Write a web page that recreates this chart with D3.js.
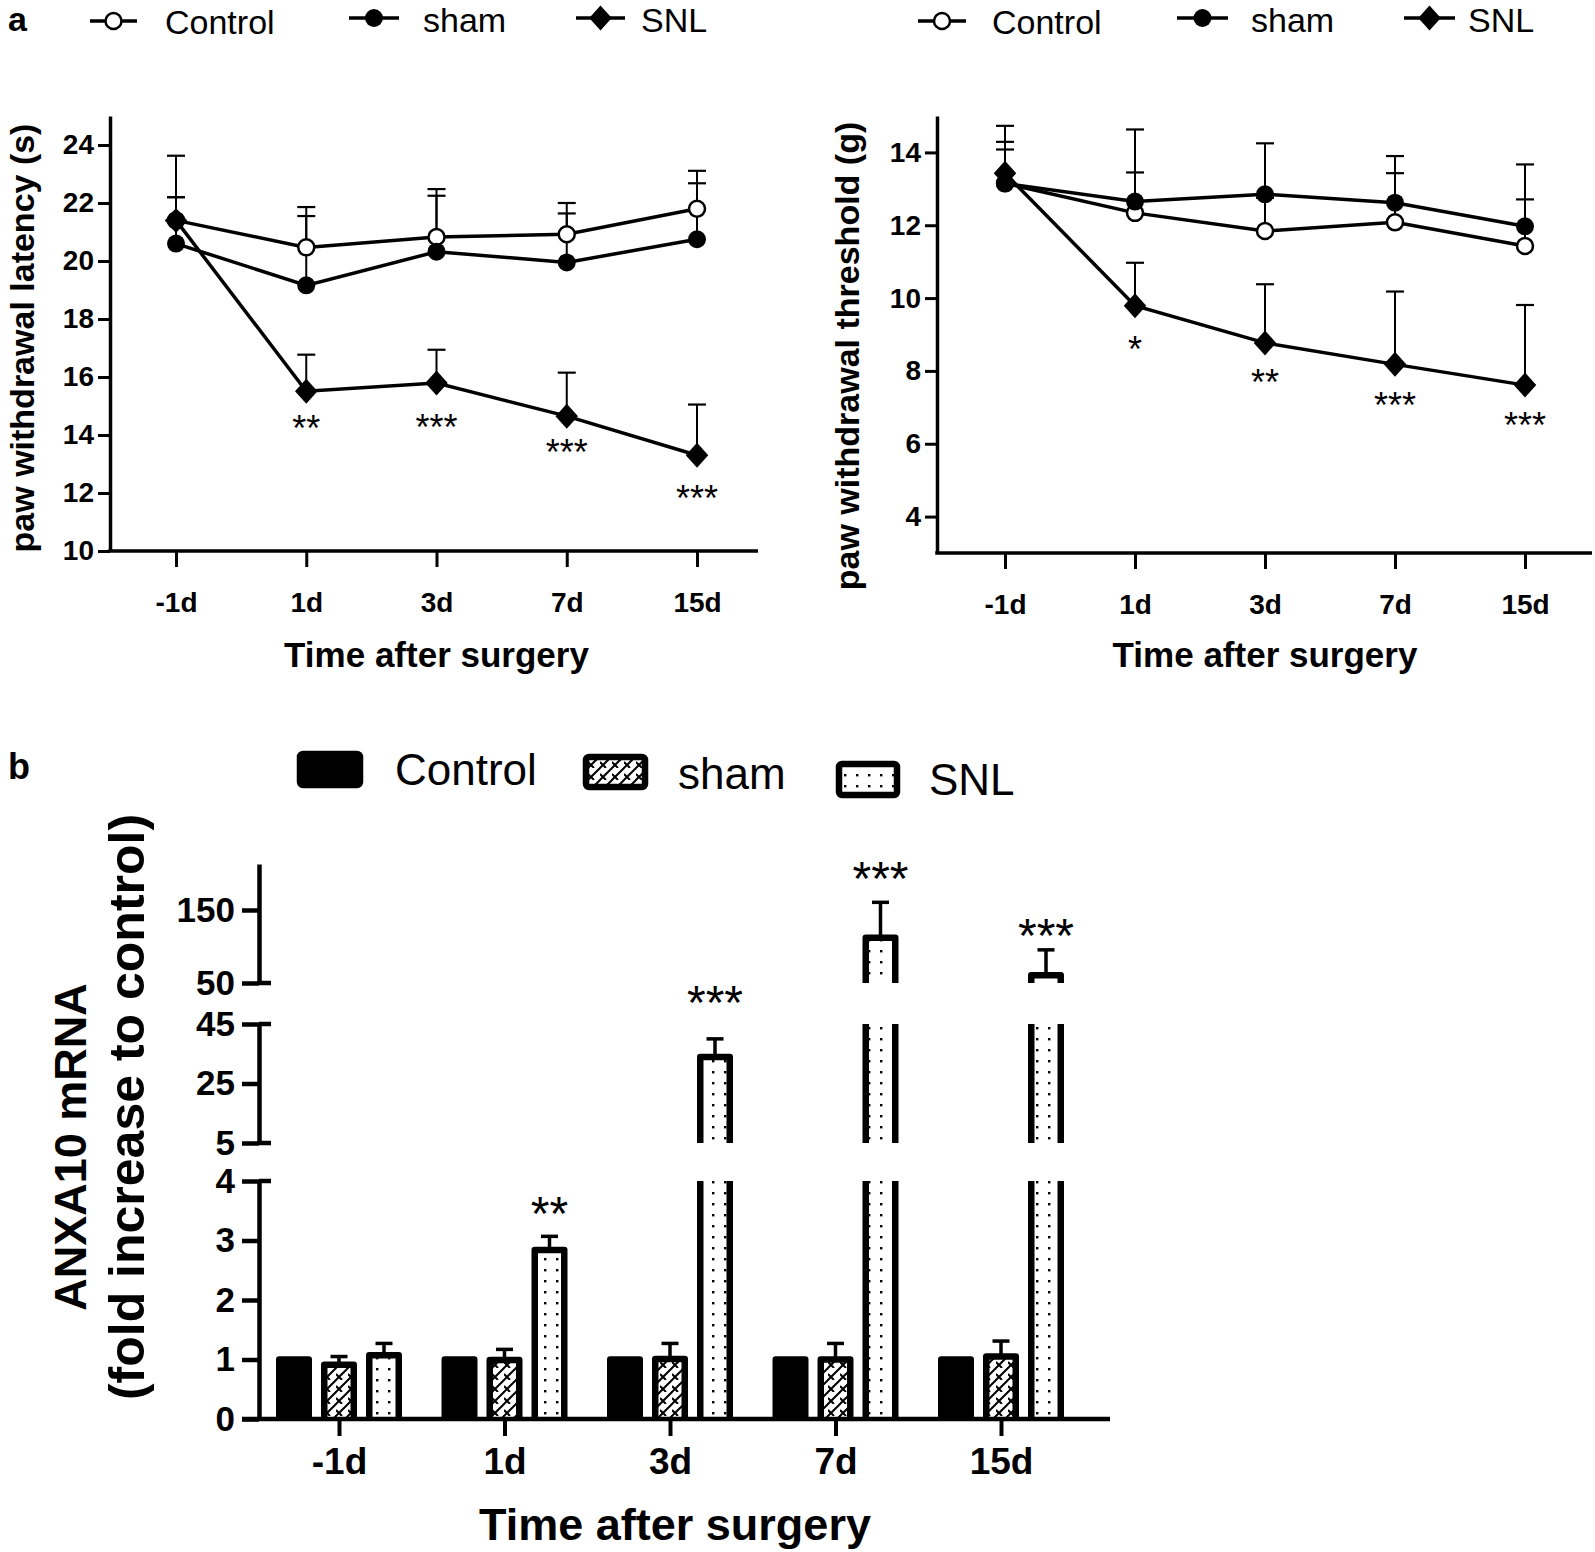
<!DOCTYPE html>
<html>
<head>
<meta charset="utf-8">
<script src="https://cdn.jsdelivr.net/npm/d3@7"></script>
<style>
  html, body { margin: 0; padding: 0; background: #fff; }
  svg { display: block; font-family: "Liberation Sans", Arial, sans-serif; }
</style>
</head>
<body>
<svg id="chart" width="1595" height="1552"></svg>
<script>
// ---------------- DATA ----------------
const categories = ["-1d", "1d", "3d", "7d", "15d"];
const seriesNames = ["Control", "sham", "SNL"];

// Panel a (left): paw withdrawal latency (s); *Err = top of upper error bar
const latControl    = [21.4, 20.47, 20.83, 20.92, 21.8];
const latControlErr = [22.2, 21.86, 22.48, 22.0, 23.11];
const latSham       = [20.6, 19.16, 20.32, 19.95, 20.75];
const latShamErr    = [22.2, 21.55, 22.25, 21.64, 22.68];
const latSNL        = [21.4, 15.51, 15.79, 14.65, 13.3];
const latSNLErr     = [23.63, 16.77, 16.94, 16.15, 15.05];
const latSig        = ["", "**", "***", "***", "***"];
const latSigY       = [null, 14.5, 14.55, 13.67, 12.1];
const latTicks      = [10, 12, 14, 16, 18, 20, 22, 24];

// Panel a (right): paw withdrawal threshold (g)
const thrControl    = [13.15, 12.34, 11.84, 12.08, 11.43];
const thrControlErr = [14.29, 13.45, 12.75, 13.43, 12.71];
const thrSham       = [13.15, 12.65, 12.85, 12.62, 11.97];
const thrShamErr    = [14.08, 14.63, 14.25, 13.9, 13.67];
const thrSNL        = [13.43, 9.79, 8.77, 8.18, 7.61];
const thrSNLErr     = [14.73, 10.97, 10.38, 10.18, 9.81];
const thrSig        = ["", "*", "**", "***", "***"];
const thrSigY       = [null, 8.83, 7.91, 7.29, 6.74];
const thrTicks      = [4, 6, 8, 10, 12, 14];

// Panel b: ANXA10 mRNA (fold increase to control)
const mrnaControl   = [1, 1, 1, 1, 1];
const mrnaSham      = [0.91, 0.99, 1.01, 1.0, 1.05];
const mrnaShamErr   = [1.05, 1.17, 1.27, 1.27, 1.31];
const mrnaSNL       = [1.07, 2.84, 33.9, 112, 60.5];
const mrnaSNLErr    = [1.27, 3.07, 40, 160.5, 95.4];
const mrnaSig       = ["", "**", "***", "***", "***"];
const mrnaSigY      = [null, 3.65, 49, 208, 130];
const mrnaTicksLow  = [0, 1, 2, 3, 4];
const mrnaTicksMid  = [5, 25, 45];
const mrnaTicksHigh = [50, 150];
const mrnaSegments  = [[0, 4], [5, 45], [50, 213]];

// ---------------- DRAWING ----------------
const svg = d3.select("#chart");
const FONT = '"Liberation Sans", Arial, sans-serif';

const defs = svg.append("defs");
const hatch = defs.append("pattern").attr("id", "hatch").attr("patternUnits", "userSpaceOnUse")
  .attr("width", 12).attr("height", 12);
hatch.append("rect").attr("width", 12).attr("height", 12).attr("fill", "#fff");
hatch.append("path").attr("d", "M-2,14 L14,-2 M-2,2 L2,-2 M10,14 L14,10").attr("stroke", "#000").attr("stroke-width", 2);
hatch.append("path").attr("d", "M0,6 L6,12").attr("stroke", "#000").attr("stroke-width", 2);
const dots = defs.append("pattern").attr("id", "dots").attr("patternUnits", "userSpaceOnUse")
  .attr("width", 12).attr("height", 11);
dots.append("rect").attr("width", 12).attr("height", 11).attr("fill", "#fff");
dots.append("rect").attr("x", 4).attr("y", 4).attr("width", 2.4).attr("height", 2.4).attr("fill", "#000");

function diamondPath(r) {
  const w = r * 0.9;
  return `M0,${-r} L${w},0 L0,${r} L${-w},0 Z`;
}
function marker(g, type, x, y) {
  if (type === "Control") {
    g.append("circle").attr("cx", x).attr("cy", y).attr("r", 8)
      .attr("fill", "#fff").attr("stroke", "#000").attr("stroke-width", 2.5);
  } else if (type === "sham") {
    g.append("circle").attr("cx", x).attr("cy", y).attr("r", 9).attr("fill", "#000");
  } else {
    g.append("path").attr("d", diamondPath(12.5)).attr("transform", `translate(${x},${y})`).attr("fill", "#000");
  }
}

// ---------- Panel a line charts ----------
function linePanel(opt) {
  const g = svg.append("g");
  const x = d3.scalePoint().domain(categories).range(opt.xRange);
  const y = d3.scaleLinear().domain(opt.yDomain).range(opt.yRange);

  // y axis
  const ya = g.append("g").attr("transform", `translate(${opt.axisX},0)`)
    .call(d3.axisLeft(y).tickValues(opt.ticks).tickSize(12).tickSizeOuter(0).tickPadding(4));
  ya.select(".domain").attr("stroke-width", 3.5);
  ya.selectAll(".tick line").attr("stroke-width", 3);
  ya.selectAll("text").attr("font-size", 28).attr("font-weight", "bold").attr("font-family", FONT).attr("fill", "#000");

  // x axis
  const xa = g.append("g").attr("transform", `translate(0,${opt.yRange[0]})`)
    .call(d3.axisBottom(x).tickSize(16).tickSizeOuter(0).tickPadding(25));
  xa.select(".domain").remove();
  xa.append("line").attr("x1", opt.axisX - 1.75).attr("x2", opt.xEnd).attr("y1", 0).attr("y2", 0)
    .attr("stroke", "#000").attr("stroke-width", 3.5);
  xa.selectAll(".tick line").attr("stroke-width", 3);
  xa.selectAll("text").attr("font-size", 28).attr("font-weight", "bold").attr("font-family", FONT).attr("fill", "#000");

  // axis titles
  g.append("text").attr("x", d3.mean(opt.xRange)).attr("y", opt.titleY).attr("text-anchor", "middle")
    .attr("font-size", 35).attr("font-weight", "bold").text("Time after surgery");
  g.append("text").attr("transform", `translate(${opt.yLabelX},${opt.yLabelY}) rotate(-90)`)
    .attr("text-anchor", "middle").attr("dominant-baseline", "central")
    .attr("font-size", 34).attr("font-weight", "bold").text(opt.yLabel);

  const series = [
    { name: "Control", v: opt.control, e: opt.controlErr },
    { name: "sham", v: opt.sham, e: opt.shamErr },
    { name: "SNL", v: opt.snl, e: opt.snlErr }
  ];
  // error bars
  series.forEach(s => {
    s.v.forEach((v, i) => {
      const cx = x(categories[i]);
      g.append("line").attr("x1", cx).attr("x2", cx).attr("y1", y(v)).attr("y2", y(s.e[i]))
        .attr("stroke", "#000").attr("stroke-width", 2);
      g.append("line").attr("x1", cx - 9).attr("x2", cx + 9).attr("y1", y(s.e[i])).attr("y2", y(s.e[i]))
        .attr("stroke", "#000").attr("stroke-width", 2.2);
    });
  });
  // lines + markers
  const line = d3.line().x((d, i) => x(categories[i])).y(d => y(d));
  series.forEach(s => {
    g.append("path").attr("d", line(s.v)).attr("fill", "none").attr("stroke", "#000").attr("stroke-width", 3.5);
  });
  series.forEach(s => {
    s.v.forEach((v, i) => marker(g, s.name, x(categories[i]), y(v)));
  });
  // significance
  opt.sig.forEach((t, i) => {
    if (!t) return;
    g.append("text").attr("x", x(categories[i])).attr("y", y(opt.sigY[i]) + 0.58 * 36)
      .attr("text-anchor", "middle").attr("font-size", 36).text(t);
  });

  // legend
  opt.legend.forEach((L, k) => {
    const name = seriesNames[k];
    g.append("line").attr("x1", L[0]).attr("x2", L[1]).attr("y1", L[2]).attr("y2", L[2])
      .attr("stroke", "#000").attr("stroke-width", 3.5);
    marker(g, name, (L[0] + L[1]) / 2, L[2]);
    g.append("text").attr("x", L[3]).attr("y", L[4]).attr("font-size", 34).text(name);
  });
}

linePanel({
  xRange: [176, 697], axisX: 110, xEnd: 758, yDomain: [10, 25], yRange: [551, 116],
  ticks: latTicks, titleY: 667, yLabel: "paw withdrawal latency (s)", yLabelX: 22, yLabelY: 338,
  control: latControl, controlErr: latControlErr, sham: latSham, shamErr: latShamErr,
  snl: latSNL, snlErr: latSNLErr, sig: latSig, sigY: latSigY,
  legend: [[90, 137, 21, 165, 34], [349, 399, 18, 423, 32], [576, 625, 18, 641, 32]]
});
linePanel({
  xRange: [1005, 1525], axisX: 937, xEnd: 1592, yDomain: [3, 15], yRange: [553, 116],
  ticks: thrTicks, titleY: 667, yLabel: "paw withdrawal threshold (g)", yLabelX: 847, yLabelY: 356,
  control: thrControl, controlErr: thrControlErr, sham: thrSham, shamErr: thrShamErr,
  snl: thrSNL, snlErr: thrSNLErr, sig: thrSig, sigY: thrSigY,
  legend: [[918, 966, 21, 992, 34], [1177, 1228, 18, 1251, 32], [1404, 1455, 18, 1468, 32]]
});

// panel letters
svg.append("text").attr("x", 8).attr("y", 31).attr("font-size", 34).attr("font-weight", "bold").text("a");
svg.append("text").attr("x", 8).attr("y", 779).attr("font-size", 36).attr("font-weight", "bold").text("b");

// ---------- Panel b bar chart with broken axis ----------
(function () {
  const g = svg.append("g");
  const axisX = 259, zeroY = 1419;
  const segRanges = [[1419, 1181], [1143, 1024], [983, 864]];
  const segs = mrnaSegments.map((d, k) => ({ d, scale: d3.scaleLinear().domain(d).range(segRanges[k]) }));
  const yCont = d3.scaleLinear()
    .domain([0, 4, 5, 45, 50, 213]).range([1419, 1181, 1143, 1024, 983, 864]);
  const x = d3.scalePoint().domain(categories).range([339, 1001]);
  const sub = d3.scaleBand().domain(seriesNames).range([-67.5, 67.5]).paddingInner(0.2).paddingOuter(0.1);
  const SW = 6.5;

  const series = [
    { name: "Control", v: mrnaControl, e: null, fill: "#000" },
    { name: "sham", v: mrnaSham, e: mrnaShamErr, fill: "url(#hatch)" },
    { name: "SNL", v: mrnaSNL, e: mrnaSNLErr, fill: "url(#dots)" }
  ];

  // bars
  series.forEach(s => {
    s.v.forEach((v, i) => {
      const c = x(categories[i]) + sub(s.name) + sub.bandwidth() / 2;
      const xl = c - sub.bandwidth() / 2 + SW / 2, xr = c + sub.bandwidth() / 2 - SW / 2;
      segs.forEach((seg, k) => {
        if (k > 0 && v <= seg.d[0]) return;
        const top = Math.min(v, seg.d[1]);
        const y0 = seg.scale(seg.d[0]), y1 = seg.scale(top);
        g.append("rect").attr("x", xl).attr("y", y1).attr("width", xr - xl).attr("height", y0 - y1)
          .attr("fill", s.fill);
        const closed = v <= seg.d[1];
        const d = closed
          ? `M${xl},${y0} L${xl},${y1} L${xr},${y1} L${xr},${y0}`
          : `M${xl},${y0} L${xl},${y1} M${xr},${y1} L${xr},${y0}`;
        g.append("path").attr("d", d).attr("fill", "none").attr("stroke", "#000")
          .attr("stroke-width", SW).attr("stroke-linejoin", "round");
      });
      if (s.e) {
        const yv = yCont(v), ye = yCont(s.e[i]);
        g.append("line").attr("x1", c).attr("x2", c).attr("y1", yv).attr("y2", ye)
          .attr("stroke", "#000").attr("stroke-width", 3.5);
        g.append("line").attr("x1", c - 8.5).attr("x2", c + 8.5).attr("y1", ye).attr("y2", ye)
          .attr("stroke", "#000").attr("stroke-width", 3.5);
      }
    });
  });

  // y axis segments
  const tickSets = [mrnaTicksLow, mrnaTicksMid, mrnaTicksHigh];
  segs.forEach((seg, k) => {
    const a = g.append("g").attr("transform", `translate(${axisX},0)`)
      .call(d3.axisLeft(seg.scale).tickValues(tickSets[k]).tickFormat(d3.format("d"))
        .tickSize(17).tickSizeOuter(0).tickPadding(7));
    a.select(".domain").attr("stroke-width", 4.5);
    a.selectAll(".tick line").attr("stroke-width", 4.5);
    a.selectAll("text").attr("font-size", 35).attr("font-weight", "bold").attr("font-family", FONT).attr("fill", "#000");
  });
  // break caps at segment ends
  [[0, 1], [1, 0], [1, 1], [2, 0]].forEach(([k, end]) => {
    const yy = segs[k].scale(segs[k].d[end]);
    g.append("line").attr("x1", axisX).attr("x2", axisX + 12).attr("y1", yy).attr("y2", yy)
      .attr("stroke", "#000").attr("stroke-width", 4.5);
  });

  // x axis
  const xa = g.append("g").attr("transform", `translate(0,${zeroY})`)
    .call(d3.axisBottom(x).tickSize(17).tickSizeOuter(0).tickPadding(12));
  xa.select(".domain").remove();
  xa.append("line").attr("x1", axisX - 17).attr("x2", 1110).attr("y1", 0).attr("y2", 0)
    .attr("stroke", "#000").attr("stroke-width", 4.5);
  xa.selectAll(".tick line").attr("stroke-width", 4);
  xa.selectAll("text").attr("font-size", 37).attr("font-weight", "bold").attr("font-family", FONT).attr("fill", "#000");

  // significance
  mrnaSig.forEach((t, i) => {
    if (!t) return;
    const c = x(categories[i]) + sub("SNL") + sub.bandwidth() / 2;
    g.append("text").attr("x", c).attr("y", yCont(mrnaSigY[i]) + 0.58 * 48)
      .attr("text-anchor", "middle").attr("font-size", 48).text(t);
  });

  // titles
  g.append("text").attr("x", 675).attr("y", 1540).attr("text-anchor", "middle")
    .attr("font-size", 45).attr("font-weight", "bold").text("Time after surgery");
  g.append("text").attr("transform", "translate(70,1147) rotate(-90)").attr("text-anchor", "middle")
    .attr("dominant-baseline", "central").attr("font-size", 45).attr("font-weight", "bold").text("ANXA10 mRNA");
  g.append("text").attr("transform", "translate(127,1107) rotate(-90)").attr("text-anchor", "middle")
    .attr("dominant-baseline", "central").attr("font-size", 50).attr("font-weight", "bold").text("(fold increase to control)");

  // legend
  const legend = [
    { x: 297, y: 751, w: 66, h: 37, tx: 395, ty: 785 },
    { x: 583, y: 754, w: 65, h: 36, tx: 678, ty: 789 },
    { x: 836, y: 761, w: 64, h: 37, tx: 929, ty: 795 }
  ];
  series.forEach((s, k) => {
    const L = legend[k];
    g.append("rect").attr("x", L.x + 3).attr("y", L.y + 3).attr("width", L.w - 6).attr("height", L.h - 6)
      .attr("rx", 3).attr("fill", s.fill).attr("stroke", "#000").attr("stroke-width", 6.5)
      .attr("stroke-linejoin", "round");
    g.append("text").attr("x", L.tx).attr("y", L.ty).attr("font-size", 44).text(s.name);
  });
})();
</script>
</body>
</html>
